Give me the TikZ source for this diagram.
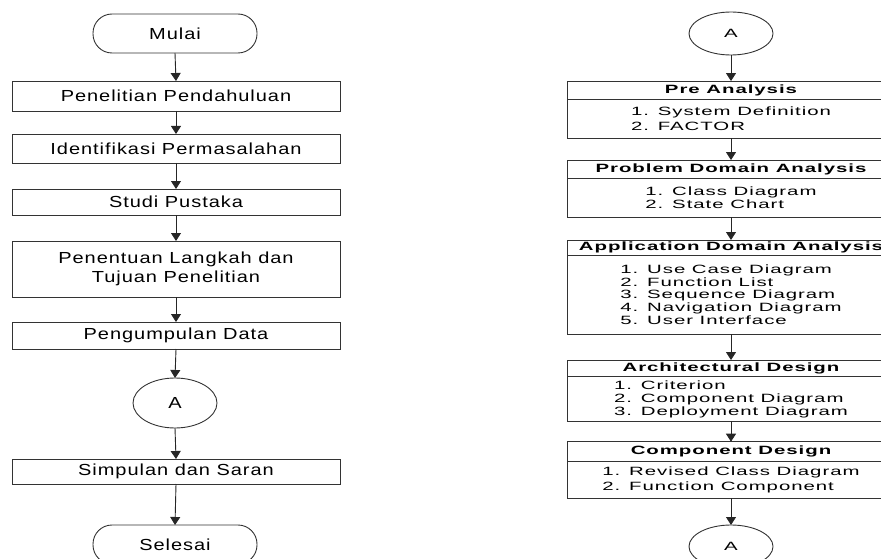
\documentclass[tikz,border=0pt]{standalone}
\usepackage{fontspec}
\usetikzlibrary{arrows.meta,shapes.geometric}
% wide, tracked Arial-like faces for the two columns
\newfontfamily\lfont[FakeStretch=1.25,LetterSpace=6]{Liberation Sans}
\newfontfamily\rfont[FakeStretch=1.7,LetterSpace=8]{Liberation Sans}
\begin{document}
\begin{tikzpicture}[x=1pt,y=-1pt,
  every node/.style={inner sep=0pt, outer sep=0pt},
  ltext/.style={font={\lfont\fontsize{16}{19.5}\selectfont}, align=center},
  lbox/.style={draw=black!80, line width=0.9pt, minimum width=328pt, ltext},
  term/.style={draw=black!80, line width=0.9pt, rounded corners=19pt,
               minimum width=164pt, minimum height=39pt, ltext},
  lconn/.style={draw=black!80, line width=0.9pt, ellipse,
                minimum width=84pt, minimum height=50pt, ltext},
  rtext/.style={font={\rfont\fontsize{12}{13}\selectfont}},
  hdr/.style={draw=black!80, line width=0.9pt, minimum width=328pt,
              rtext, font={\rfont\bfseries\fontsize{12}{13}\selectfont}},
  body/.style={draw=black!80, line width=0.9pt, minimum width=328pt,
               rtext, align=left},
  rconn/.style={draw=black!80, line width=0.9pt, ellipse,
                minimum width=84pt, minimum height=43pt, rtext},
  arr/.style={draw=black!85, line width=0.9pt, -{Triangle[length=8pt,width=10pt]}}]
\useasboundingbox (0,0) rectangle (881,559);
\clip (0,0) rectangle (881,559);

% ---- research stages ----
\node[term]  (mulai) at (175,33.5) {Mulai};
\node[lbox, minimum height=30pt] (b1) at (176,96)    {Penelitian Pendahuluan};
\node[lbox, minimum height=29pt] (b2) at (176,148.5) {Identifikasi Permasalahan};
\node[lbox, minimum height=26pt] (b3) at (176,202)   {Studi Pustaka};
\node[lbox, minimum height=56pt] (b4) at (176,269)   {Penentuan Langkah dan\\Tujuan Penelitian};
\node[lbox, minimum height=27pt] (b5) at (176,335.5) {Pengumpulan Data};
\node[lconn] (ca) at (175,403) {A};
\node[lbox, minimum height=25pt] (b6) at (176,471.5) {Simpulan dan Saran};
\node[term]  (selesai) at (175,544.5) {Selesai};

\draw[arr] (mulai.south) -- (b1.north);
\draw[arr] (b1.south) -- (b2.north);
\draw[arr] (b2.south) -- (b3.north);
\draw[arr] (b3.south) -- (b4.north);
\draw[arr] (b4.south) -- (b5.north);
\draw[arr] (b5.south) -- (ca.north);
\draw[arr] (ca.south) -- (b6.north);
\draw[arr] (b6.south) -- (selesai.north);

% ---- development method ----
\node[rconn] (ra) at (731,33.5) {A};

\node[hdr, minimum height=18.3pt] (pah) at (731,90.2) {Pre Analysis};
\node[body, minimum height=39pt, font={\rfont\fontsize{12}{14.4}\selectfont}] (pab) at (731,118.8)
  {1. System Definition\\2. FACTOR};

\node[hdr, minimum height=18.3pt] (pdh) at (731,169.2) {Problem Domain Analysis};
\node[body, minimum height=39pt, font={\rfont\fontsize{12}{12.4}\selectfont}] (pdb) at (731,197.8)
  {1. Class Diagram\\2. State Chart};

\node[hdr, minimum height=15pt] (adh) at (731,247.5) {Application Domain Analysis};
\node[body, minimum height=79.3pt, font={\rfont\fontsize{12}{12.75}\selectfont}] (adb) at (731,294.7)
  {1. Use Case Diagram\\2. Function List\\3. Sequence Diagram\\4. Navigation Diagram\\5. User Interface};

\node[hdr, minimum height=16.7pt] (arh) at (731,368.4) {Architectural Design};
\node[body, minimum height=44.3pt, font={\rfont\fontsize{12}{13}\selectfont}] (arb) at (731,398.9)
  {1. Criterion\\2. Component Diagram\\3. Deployment Diagram};

\node[hdr, minimum height=20pt] (cdh) at (731,451.7) {Component Design};
\node[body, minimum height=36.6pt, font={\rfont\fontsize{12}{14.4}\selectfont}] (cdb) at (731,480)
  {1. Revised Class Diagram\\2. Function Component};

\node[rconn] (rb) at (731,546.5) {A};

\draw[arr] (ra.south) -- (pah.north);
\draw[arr] (pab.south) -- (pdh.north);
\draw[arr] (pdb.south) -- (adh.north);
\draw[arr] (adb.south) -- (arh.north);
\draw[arr] (arb.south) -- (cdh.north);
\draw[arr] (cdb.south) -- (rb.north);
\end{tikzpicture}
\end{document}
